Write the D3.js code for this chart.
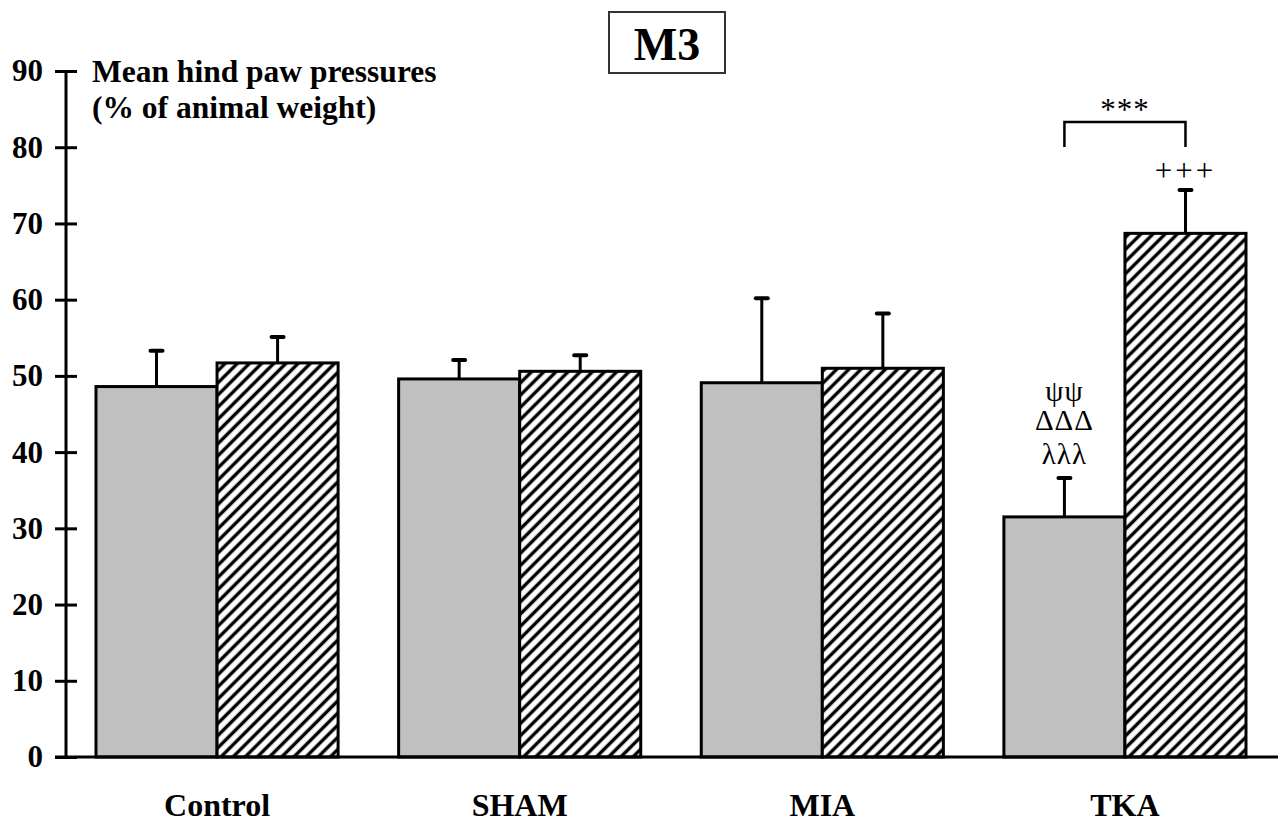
<!DOCTYPE html>
<html>
<head>
<meta charset="utf-8">
<script src="https://cdn.jsdelivr.net/npm/d3@7"></script>
<style>
  html, body { margin: 0; padding: 0; background: #fff; }
  svg { display: block; font-family: "Liberation Serif", "Times New Roman", serif; }
</style>
</head>
<body>
<svg id="chart" width="1284" height="822"></svg>
<script>
// ---- data ----
const categories = ["Control", "SHAM", "MIA", "TKA"];
const seriesKeys = ["pre", "post"];
const grayValues = [48.6, 49.6, 49.1, 31.5];
const grayErrors = [4.7, 2.5, 11.1, 5.1];
const hatchValues = [51.7, 50.6, 51.0, 68.7];
const hatchErrors = [3.4, 2.1, 7.2, 5.7];
const yTicks = [0, 10, 20, 30, 40, 50, 60, 70, 80, 90];
const titleText = "M3";
const yLabelLines = ["Mean hind paw pressures", "(% of animal weight)"];
const greekMarks = ["ψψ", "ΔΔΔ", "λλλ"];
const bracketMark = "***";
const plusMark = "+++";

const svg = d3.select("#chart");

// ---- scales ----
const y = d3.scaleLinear().domain([0, 90]).range([757, 71]);
const x = d3.scaleBand().domain(categories).range([96, 1246]).paddingInner(0.2).paddingOuter(0);
const xs = d3.scaleBand().domain(seriesKeys).range([0, x.bandwidth()]).padding(0);

// ---- pattern ----
const defs = svg.append("defs");
const pat = defs.append("pattern")
  .attr("id", "hatch")
  .attr("patternUnits", "userSpaceOnUse")
  .attr("width", 8.6).attr("height", 8.6)
  .attr("patternTransform", "rotate(45)");
pat.append("rect").attr("width", 8.6).attr("height", 8.6).attr("fill", "#fff");
pat.append("line").attr("x1", 4.3).attr("x2", 4.3).attr("y1", 0).attr("y2", 8.6)
  .attr("stroke", "#000").attr("stroke-width", 3.4);

// ---- data rows ----
const rows = categories.map((c, i) => ([
  { cat: c, key: "pre", v: grayValues[i], e: grayErrors[i] },
  { cat: c, key: "post", v: hatchValues[i], e: hatchErrors[i] }
]));

const g = svg.append("g");
const groups = g.selectAll("g.grp").data(rows).join("g")
  .attr("class", "grp")
  .attr("transform", d => `translate(${x(d[0].cat)},0)`);

// error bars (behind bars)
groups.selectAll("line.err").data(d => d).join("line")
  .attr("class", "err")
  .attr("x1", d => xs(d.key) + xs.bandwidth() / 2)
  .attr("x2", d => xs(d.key) + xs.bandwidth() / 2)
  .attr("y1", d => y(d.v))
  .attr("y2", d => y(d.v + d.e))
  .attr("stroke", "#000").attr("stroke-width", 3);
groups.selectAll("line.cap").data(d => d).join("line")
  .attr("class", "cap")
  .attr("x1", d => xs(d.key) + xs.bandwidth() / 2 - 6)
  .attr("x2", d => xs(d.key) + xs.bandwidth() / 2 + 6)
  .attr("y1", d => y(d.v + d.e))
  .attr("y2", d => y(d.v + d.e))
  .attr("stroke", "#000").attr("stroke-width", 4).attr("stroke-linecap", "round");

groups.selectAll("rect").data(d => d).join("rect")
  .attr("x", d => xs(d.key))
  .attr("y", d => y(d.v))
  .attr("width", xs.bandwidth())
  .attr("height", d => y(0) - y(d.v))
  .attr("fill", d => d.key === "pre" ? "#c0c0c0" : "url(#hatch)")
  .attr("stroke", "#000").attr("stroke-width", 3);

// ---- axes ----
const yAxisL = d3.axisLeft(y).tickValues(yTicks).tickSize(11).tickPadding(12).tickFormat(d3.format("d"));
const yAxisR = d3.axisRight(y).tickValues(yTicks).tickSize(11).tickFormat("");
const ya = svg.append("g").attr("transform", "translate(66,0)").call(yAxisL);
const yb = svg.append("g").attr("transform", "translate(66,0)").call(yAxisR);
[ya, yb].forEach(a => {
  a.select(".domain").remove();
  a.selectAll(".tick line").attr("stroke", "#000").attr("stroke-width", 3);
});
ya.selectAll(".tick text")
  .attr("font-family", "'Liberation Serif', serif")
  .attr("font-size", 31).attr("font-weight", "bold").attr("fill", "#000");
svg.append("line").attr("x1", 66).attr("x2", 66).attr("y1", y(90)).attr("y2", y(0))
  .attr("stroke", "#000").attr("stroke-width", 3);

// x axis
const xAxis = d3.axisBottom(x).tickSize(0).tickPadding(36);
const xa = svg.append("g").attr("transform", `translate(0,${y(0)})`).call(xAxis);
xa.select(".domain").remove();
xa.selectAll(".tick text")
  .attr("font-family", "'Liberation Serif', serif")
  .attr("font-size", 32).attr("font-weight", "bold").attr("fill", "#000");
svg.append("line").attr("x1", 55).attr("x2", 1278).attr("y1", y(0)).attr("y2", y(0))
  .attr("stroke", "#000").attr("stroke-width", 3);

// ---- y label ----
svg.append("g").selectAll("text").data(yLabelLines).join("text")
  .attr("x", 92).attr("y", (d, i) => 82 + i * 36)
  .attr("font-size", 31.5).attr("font-weight", "bold").attr("fill", "#000")
  .text(d => d);

// ---- title ----
svg.append("rect").attr("x", 609).attr("y", 12).attr("width", 116).attr("height", 61)
  .attr("fill", "#fff").attr("stroke", "#333").attr("stroke-width", 2);
svg.append("text").attr("x", 667).attr("y", 60).attr("text-anchor", "middle")
  .attr("font-size", 46).attr("font-weight", "bold").attr("fill", "#000").text(titleText);

// ---- annotations ----
const tkaGrayX = x("TKA") + xs("pre") + xs.bandwidth() / 2;
const tkaHatchX = x("TKA") + xs("post") + xs.bandwidth() / 2;
const tkaIdx = categories.indexOf("TKA");
const capY = y(grayValues[tkaIdx] + grayErrors[tkaIdx]);
const greekOffsets = [-77, -48, -14];

svg.append("g").selectAll("text").data(greekMarks).join("text")
  .attr("x", tkaGrayX).attr("y", (d, i) => capY + greekOffsets[i])
  .attr("text-anchor", "middle").attr("letter-spacing", 1)
  .attr("font-size", 29).attr("fill", "#000").text(d => d);

const bTop = 122, bBot = 147;
svg.append("path")
  .attr("d", `M${tkaGrayX},${bBot}V${bTop}H${tkaHatchX}V${bBot}`)
  .attr("fill", "none").attr("stroke", "#000").attr("stroke-width", 2.5);
svg.append("text").attr("x", (tkaGrayX + tkaHatchX) / 2).attr("y", 120)
  .attr("text-anchor", "middle").attr("font-size", 31).attr("letter-spacing", 1)
  .attr("fill", "#000").text(bracketMark);
svg.append("text").attr("x", tkaHatchX).attr("y", y(hatchValues[tkaIdx] + hatchErrors[tkaIdx]) - 9)
  .attr("text-anchor", "middle").attr("font-size", 31).attr("letter-spacing", 3)
  .attr("fill", "#000").text(plusMark);
</script>
</body>
</html>
